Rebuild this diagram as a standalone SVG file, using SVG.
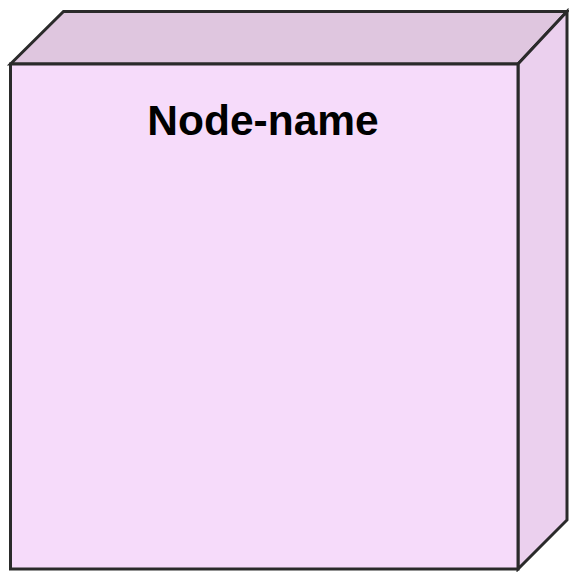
<svg xmlns="http://www.w3.org/2000/svg" width="569" height="572" viewBox="0 0 569 572">
<style>
.edge{stroke:#2a2a2a;stroke-width:3;stroke-linejoin:miter}
.lbl{font-family:"Liberation Sans",Arial,sans-serif;font-weight:bold;font-size:42.5px;fill:#000}
</style>
<rect width="569" height="572" fill="#ffffff"/>
<g id="node">
<polygon class="edge" points="10.5,64 63.5,11.5 567,11.5 518,64" fill="#DFC6DF"/>
<polygon class="edge" points="518,64 567,11.5 567,520 518,569" fill="#EBD0EE"/>
<rect class="edge" x="10.5" y="64" width="507.5" height="505" fill="#F6DBFA"/>
<text class="lbl" x="263" y="135" text-anchor="middle">Node-name</text>
</g>
<g id="connectors"/>
</svg>
